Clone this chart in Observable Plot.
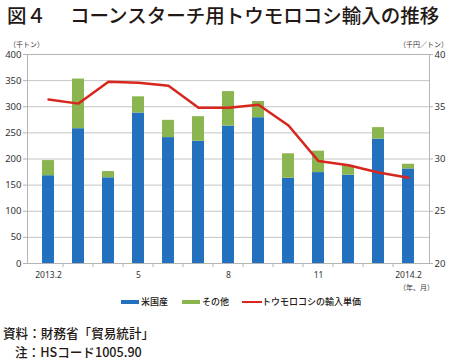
<!DOCTYPE html>
<html>
<head>
<meta charset="utf-8">
<script src="https://cdn.jsdelivr.net/npm/d3@7"></script>
<script src="https://cdn.jsdelivr.net/npm/@observablehq/plot@0.6"></script>
<style>
  html, body { margin: 0; padding: 0; background: #fff; }
  #wrap { position: relative; width: 450px; height: 360px; overflow: hidden; font-family: "Noto Sans CJK JP", "Noto Sans", sans-serif; color: #231815; }
  .abs { position: absolute; white-space: nowrap; }
  .title { font-size: 19.5px; font-weight: 500; line-height: normal; top: 0; }
  .unit { font-size: 7px; line-height: normal; color: #333; }
  .leg { font-size: 9px; line-height: normal; font-weight: 500; top: 295px; }
  .sw { position: absolute; }
  .cap { font-size: 12.6px; line-height: normal; font-weight: 500; }
  #chart { position: absolute; left: 0; top: 30px; }
</style>
</head>
<body>
<div id="wrap">
  <div class="abs title" style="left:7px">図４</div>
  <div class="abs title" style="left:70px">コーンスターチ用トウモロコシ輸入の推移</div>
  <div id="chart"></div>
  <div class="abs unit" style="left:9px;top:39px">（千トン）</div>
  <div class="abs unit" style="left:399px;top:39px">（千円／トン）</div>
  <div class="abs unit" style="left:399px;top:282px">（年、月）</div>
  <div class="sw" style="left:121px;top:300px;width:18px;height:4px;background:#2270be"></div>
  <div class="abs leg" style="left:141px">米国産</div>
  <div class="sw" style="left:182px;top:300px;width:18px;height:4px;background:#8bb54f"></div>
  <div class="abs leg" style="left:202px">その他</div>
  <div class="sw" style="left:242px;top:301px;width:20px;height:2px;background:#d7261e"></div>
  <div class="abs leg" style="left:262px">トウモロコシの輸入単価</div>
  <div class="abs cap" style="left:3px;top:323px">資料：財務省「貿易統計」</div>
  <div class="abs cap" style="left:15px;top:341.5px">注：HSコード1005.90</div>
</div>
<script>
const months = ["2013.2","2013.3","2013.4","2013.5","2013.6","2013.7","2013.8","2013.9","2013.10","2013.11","2013.12","2014.1","2014.2"];
const tickLabels = {"2013.2":"2013.2","2013.5":"5","2013.8":"8","2013.11":"11","2014.2":"2014.2"};
const series = ["米国産","その他"];
const usa   = [168,258,164,288,241,234,263,279,163,174,169,238,181];
const other = [ 29, 95, 12, 31, 33, 47, 66, 31, 47, 41, 19, 22,  9];
const price = [35.7,35.3,37.4,37.3,37.0,34.9,34.9,35.2,33.2,29.8,29.4,28.7,28.2];
const leftTicks = [0,50,100,150,200,250,300,350,400];
const rightTicks = [20,25,30,35,40];

const barData = months.flatMap((m, i) => [
  {month: m, series: series[0], value: usa[i]},
  {month: m, series: series[1], value: other[i]}
]);
const lineData = months.map((m, i) => ({month: m, price: price[i]}));
// right axis: 20..40 mapped onto left 0..400
const toLeft = p => (p - 20) * 20;

const W = 450, ML = 27, MR = 21;
const step = (W - ML - MR) / months.length;

const chart = Plot.plot({
  width: W,
  height: 260,
  marginLeft: ML,
  marginRight: MR,
  marginTop: 24,
  marginBottom: 27,
  style: {fontFamily: "'Noto Sans', sans-serif", color: "#333", background: "transparent", overflow: "visible"},
  x: {type: "band", domain: months, paddingInner: 0.6, paddingOuter: 0.3, axis: null},
  y: {domain: [0, 400], axis: null},
  color: {domain: series, range: ["#2270be", "#8bb54f"]},
  marks: [
    Plot.ruleY(leftTicks.filter(d => d > 0 && d < 400), {stroke: "#c4c4c4", strokeWidth: 1}),
    Plot.barY(barData, {x: "month", y: "value", fill: "series"}),
    Plot.frame({stroke: "#b4b4b4"}),
    Plot.ruleX(months.slice(1), {x: d => d, y1: 0, y2: -8, dx: -step / 2, stroke: "#b4b4b4"}),
    Plot.line(lineData, {x: "month", y: d => toLeft(d.price), stroke: "#d7261e", strokeWidth: 2.5}),
    Plot.axisY({anchor: "left", label: null, ticks: leftTicks, tickSize: 4, tickPadding: 2, fontSize: 9.5, stroke: "#b4b4b4"}),
    Plot.axisY({anchor: "right", label: null, ticks: rightTicks.map(toLeft), tickFormat: d => d / 20 + 20, tickSize: 3, tickPadding: 2, fontSize: 9.5, stroke: "#b4b4b4"}),
    Plot.axisX({label: null, ticks: Object.keys(tickLabels), tickFormat: d => tickLabels[d], tickSize: 0, tickPadding: 8, fontSize: 8.5})
  ]
});
document.getElementById("chart").appendChild(chart);
</script>
</body>
</html>
